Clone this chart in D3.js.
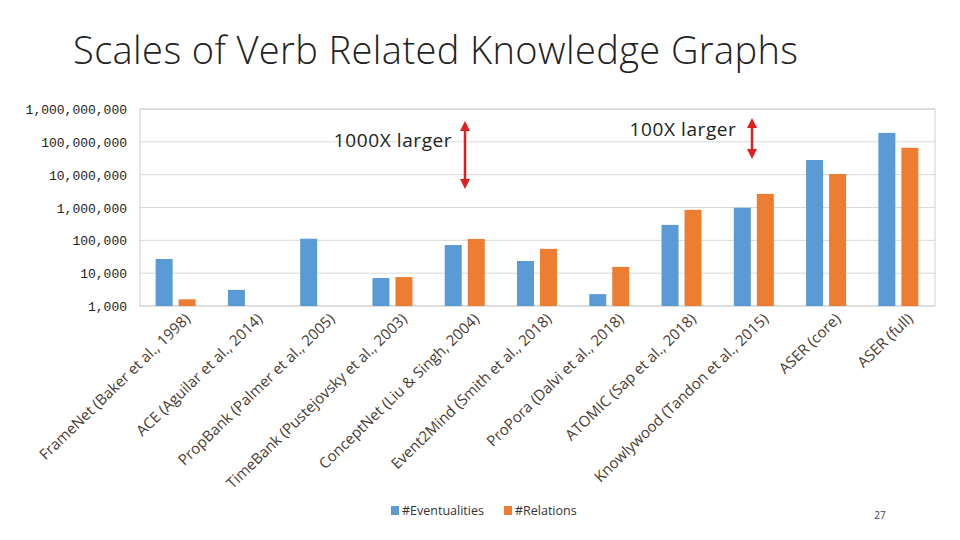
<!DOCTYPE html><html><head><meta charset="utf-8"><script src="https://cdn.jsdelivr.net/npm/d3@7"></script>
<style>body{margin:0;background:#fff}</style></head><body><svg id="c" width="960" height="540"></svg>
<script>
const categories=["FrameNet (Baker et al., 1998)","ACE (Aguilar et al., 2014)","PropBank (Palmer et al., 2005)","TimeBank (Pustejovsky et al., 2003)","ConceptNet (Liu & Singh, 2004)","Event2Mind (Smith et al., 2018)","ProPora (Dalvi et al., 2018)","ATOMIC (Sap et al., 2018)","Knowlywood (Tandon et al., 2015)","ASER (core)","ASER (full)"];
const eventualities=[27000,3100,112000,7100,72000,23500,2300,295000,980000,28000000,187000000];
const relations=[1600,null,null,7600,110000,55000,15500,850000,2600000,10500000,66000000];
const tickValues=[1e3,1e4,1e5,1e6,1e7,1e8,1e9];
const svg=d3.select("#c");
const L=140,R=935,T=109,B=306;
const x=d3.scaleBand().domain(categories).range([L,R]);
const y=d3.scaleLog().domain([1e3,1e9]).range([B,T]);
svg.append("text").attr("x",73).attr("y",64).attr("font-family","Open Sans").attr("font-weight",300).attr("font-size",38).attr("letter-spacing",0.4).attr("fill","#222").text("Scales of Verb Related Knowledge Graphs");
svg.append("g").selectAll("line").data(tickValues).join("line").attr("x1",L).attr("x2",R).attr("y1",d=>y(d)).attr("y2",d=>y(d)).attr("stroke","#d9d9d9");
svg.append("rect").attr("x",L).attr("y",T).attr("width",R-L).attr("height",B-T).attr("fill","none").attr("stroke","#d0d0d0");
svg.append("g").selectAll("text").data(tickValues).join("text").attr("x",127).attr("y",d=>y(d)+5).attr("text-anchor","end").attr("font-family","Liberation Mono").attr("font-size",13).attr("fill","#222").text(d=>d3.format(",")(d));
const bw=21;
svg.append("g").selectAll("rect").data(eventualities).join("rect").attr("x",(d,i)=>x(categories[i])+x.bandwidth()/2-bw+0.5).attr("width",bw-4).attr("y",d=>y(d)).attr("height",d=>B-y(d)).attr("fill","#5b9bd5");
svg.append("g").selectAll("rect").data(relations.map((v,i)=>[v,i]).filter(d=>d[0])).join("rect").attr("x",d=>x(categories[d[1]])+x.bandwidth()/2+2.5).attr("width",bw-4).attr("y",d=>y(d[0])).attr("height",d=>B-y(d[0])).attr("fill","#ed7d31");
svg.append("g").selectAll("text").data(categories).join("text").attr("transform",d=>`translate(${x(d)+x.bandwidth()/2+15},${B+14}) rotate(-44)`).attr("text-anchor","end").attr("font-family","Open Sans").attr("font-size",15).attr("fill","#4a3b32").text(d=>d);
const ann=[{t:"1000X  larger",tx:393,ty:147,ax:465,y1:120,y2:190},{t:"100X  larger",tx:683,ty:136,ax:752,y1:117,y2:160}];
svg.append("defs").html('<marker id="a" viewBox="0 0 10 10" refX="5" refY="5" markerWidth="4" markerHeight="4" orient="auto-start-reverse"><path d="M0,0L10,5L0,10z" fill="#e02020"/></marker>');
ann.forEach(a=>{svg.append("text").attr("x",a.tx).attr("y",a.ty).attr("text-anchor","middle").attr("font-family","Open Sans").attr("font-size",19).attr("letter-spacing",0.6).attr("fill","#222").text(a.t);
svg.append("line").attr("x1",a.ax).attr("x2",a.ax).attr("y1",a.y1+6).attr("y2",a.y2-6).attr("stroke","#e02020").attr("stroke-width",2.5).attr("marker-start","url(#a)").attr("marker-end","url(#a)");});
const lg=[["#Eventualities","#5b9bd5",391],["#Relations","#ed7d31",504]];
lg.forEach(l=>{svg.append("rect").attr("x",l[2]).attr("y",506).attr("width",8).attr("height",9).attr("fill",l[1]);
svg.append("text").attr("x",l[2]+11).attr("y",515).attr("font-family","Open Sans").attr("font-size",12.5).attr("fill","#333").text(l[0]);});
svg.append("text").attr("x",880).attr("y",519).attr("text-anchor","middle").attr("font-family","Open Sans").attr("font-size",10).attr("fill","#444").text("27");
</script></body></html>
